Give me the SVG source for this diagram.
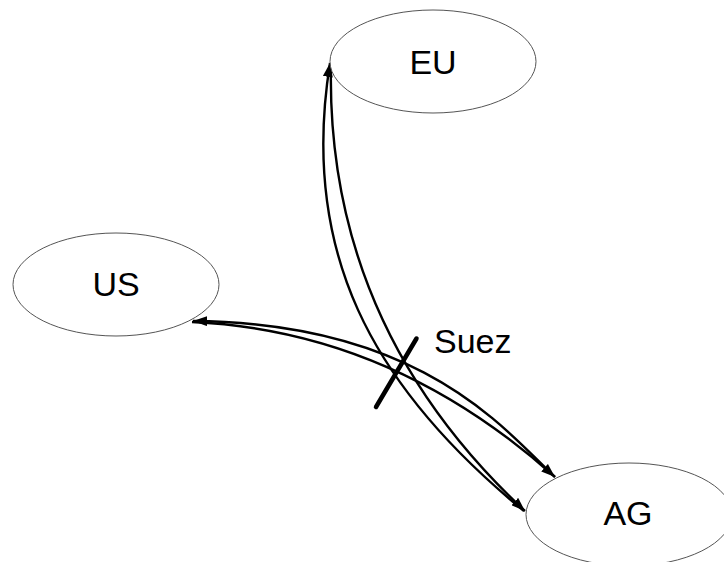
<svg xmlns="http://www.w3.org/2000/svg" width="724" height="562" viewBox="0 0 724 562">
  <defs>
    <marker id="arrow" markerUnits="userSpaceOnUse" markerWidth="15" markerHeight="10" refX="14" refY="5" orient="auto">
      <path d="M0,0 L14,5 L0,10 z" fill="#000"/>
    </marker>
    <style>
      .node ellipse { fill: #fff; stroke: #555; stroke-width: 1; }
      .node text, .label { font-family: "Liberation Sans", Arial, sans-serif; font-size: 34px; fill: #000; }
      .node text { text-anchor: middle; }
      .edge { fill: none; stroke: #000; stroke-width: 2.4; marker-end: url(#arrow); }
    </style>
  </defs>
  <rect width="724" height="562" fill="#fff"/>

  <g id="connectors">
    <!-- EU <-> AG -->
    <path class="edge" d="M524,511 C370,385 300,250 330,63"/>
    <path class="edge" d="M331,63 Q325,325 525,511"/>
    <!-- US <-> AG -->
    <path class="edge" d="M555,477 C505,430 422,323 193,321"/>
    <path class="edge" d="M192,322 Q392,331 555,477"/>
  </g>

  <g id="EU" class="node">
    <ellipse cx="433" cy="61.5" rx="103" ry="51.5"/>
    <text x="433" y="73.5">EU</text>
  </g>
  <g id="US" class="node">
    <ellipse cx="116" cy="284.5" rx="103" ry="51.5"/>
    <text x="116" y="296">US</text>
  </g>
  <g id="AG" class="node">
    <ellipse cx="629" cy="514.5" rx="103" ry="51.5"/>
    <text x="628" y="524.5">AG</text>
  </g>

  <g id="Suez">
    <line x1="416.5" y1="338.5" x2="376" y2="407" stroke="#000" stroke-width="4.5" stroke-linecap="round"/>
    <text class="label" x="434" y="353" font-size="35">Suez</text>
  </g>
</svg>
